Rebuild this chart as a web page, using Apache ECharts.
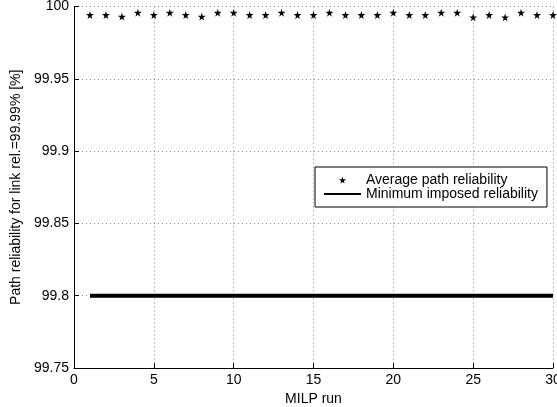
<!DOCTYPE html>
<html>
<head>
<meta charset="utf-8">
<script src="https://cdn.jsdelivr.net/npm/echarts@6/dist/echarts.min.js"></script>
<style>
  html, body { margin: 0; padding: 0; background: #fff; }
  #chart { width: 557px; height: 407px; }
</style>
</head>
<body>
<div id="chart"></div>
<script>
var runs = [1, 2, 3, 4, 5, 6, 7, 8, 9, 10, 11, 12, 13, 14, 15,
            16, 17, 18, 19, 20, 21, 22, 23, 24, 25, 26, 27, 28, 29, 30];
var avgReliability = [99.9941, 99.9941, 99.9930, 99.9957, 99.9941, 99.9957, 99.9941, 99.9930, 99.9957, 99.9957,
                      99.9941, 99.9941, 99.9957, 99.9941, 99.9941, 99.9957, 99.9941, 99.9941, 99.9941, 99.9957,
                      99.9941, 99.9941, 99.9957, 99.9957, 99.9925, 99.9941, 99.9925, 99.9957, 99.9941, 99.9941];
var minReliability = [99.8, 99.8, 99.8, 99.8, 99.8, 99.8, 99.8, 99.8, 99.8, 99.8,
                      99.8, 99.8, 99.8, 99.8, 99.8, 99.8, 99.8, 99.8, 99.8, 99.8,
                      99.8, 99.8, 99.8, 99.8, 99.8, 99.8, 99.8, 99.8, 99.8, 99.8];
var seriesNames = ['Average path reliability', 'Minimum imposed reliability'];

var starPath = 'path://M50,0 L61,35 L98,35 L68,57 L79,91 L50,70 L21,91 L32,57 L2,35 L39,35 Z';
var font = 'Liberation Sans, Arial, sans-serif';

function pairs(xs, ys) {
    return xs.map(function (x, i) { return [x, ys[i]]; });
}

var myChart = echarts.init(document.getElementById('chart'));

let option = {
    animation: false,
    backgroundColor: '#fff',
    textStyle: { fontFamily: font },
    grid: { left: 74, right: 4, top: 6.5, bottom: 39, outerBoundsMode: 'none', containLabel: false },
    legend: {
        orient: 'vertical',
        left: 315,
        top: 167,
        padding: [6, 9, 6, 8],
        itemWidth: 37,
        itemHeight: 9,
        itemGap: 0,
        backgroundColor: '#fff',
        borderColor: '#000',
        borderWidth: 1,
        borderRadius: 0,
        textStyle: { fontFamily: font, fontSize: 14, color: '#000', lineHeight: 14 },
        data: [
            { name: seriesNames[0], lineStyle: { opacity: 0 } },
            { name: seriesNames[1], lineStyle: { width: 2 }, itemStyle: { opacity: 0 } }
        ]
    },
    xAxis: {
        type: 'value',
        min: 0,
        max: 30,
        interval: 5,
        name: 'MILP run',
        nameLocation: 'middle',
        nameGap: 22,
        nameTextStyle: { fontFamily: font, fontSize: 14, color: '#000' },
        axisLine: { onZero: false, lineStyle: { color: '#000', width: 1 } },
        axisTick: { inside: true, length: 5, lineStyle: { color: '#000' } },
        axisLabel: { fontFamily: font, fontSize: 14, color: '#000', margin: 5 },
        splitLine: { show: true, lineStyle: { color: '#888', type: [1, 3], width: 1 } }
    },
    yAxis: {
        type: 'value',
        min: 99.75,
        max: 100,
        interval: 0.05,
        name: 'Path reliability for link rel.=99.99% [%]',
        nameLocation: 'middle',
        nameGap: 48,
        nameTextStyle: { fontFamily: font, fontSize: 14, color: '#000' },
        axisLine: { show: true, lineStyle: { color: '#000', width: 1 } },
        axisTick: { show: true, inside: true, length: 5, lineStyle: { color: '#000' } },
        axisLabel: { fontFamily: font, fontSize: 14, color: '#000', margin: 5 },
        splitLine: { show: true, lineStyle: { color: '#888', type: [1, 3], width: 1 } }
    },
    series: [
        {
            name: seriesNames[0],
            type: 'line',
            data: pairs(runs, avgReliability),
            symbol: starPath,
            symbolSize: 8,
            showAllSymbol: true,
            itemStyle: { color: '#000' },
            lineStyle: { opacity: 0 },
            z: 3
        },
        {
            name: seriesNames[1],
            type: 'line',
            data: pairs(runs, minReliability),
            symbol: 'none',
            itemStyle: { color: '#000' },
            lineStyle: { color: '#000', width: 4 },
            z: 2
        }
    ]
};

myChart.setOption(option);
</script>
</body>
</html>
